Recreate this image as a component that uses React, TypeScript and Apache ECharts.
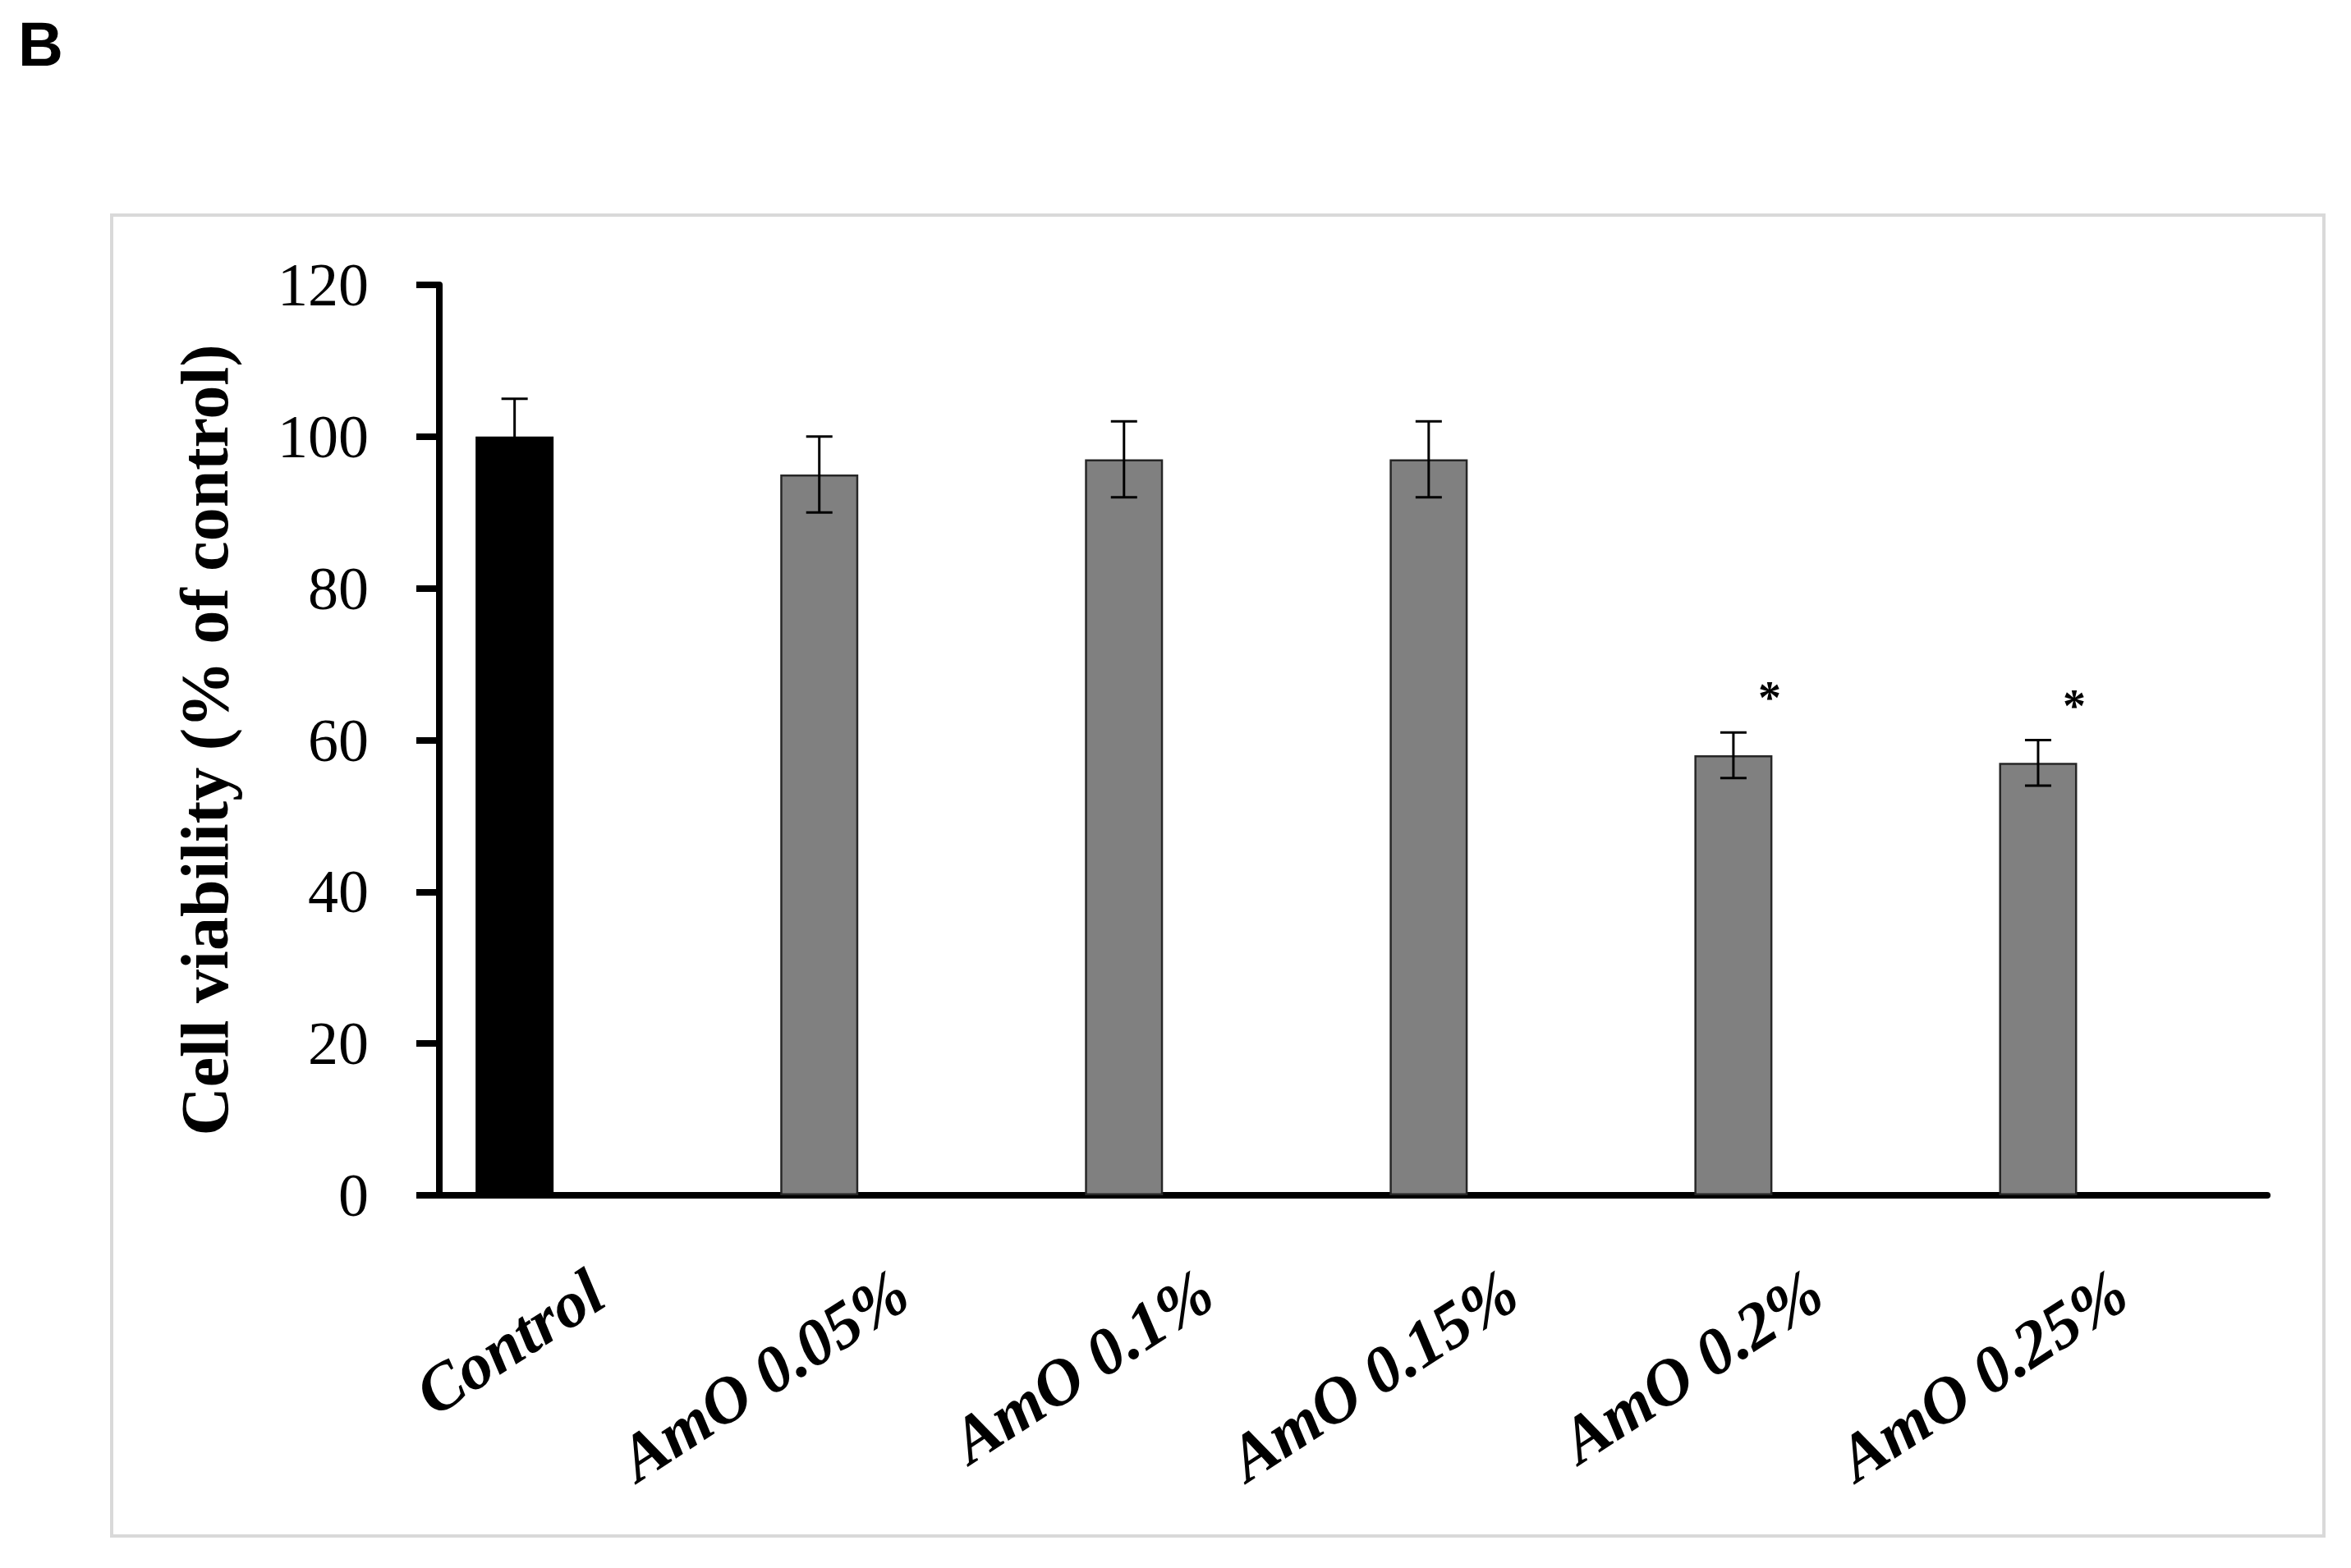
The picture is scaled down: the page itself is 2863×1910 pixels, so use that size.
import React, { useEffect, useRef } from "react";
import * as echarts from "echarts";

// ---- data ----
const categories = ["Control", "AmO 0.05%", "AmO 0.1%", "AmO 0.15%", "AmO 0.2%", "AmO 0.25%"];
const viability = [100, 95, 97, 97, 58, 57];
const errors = [5, 5, 5, 5, 3, 3];
const significance = ["", "", "", "", "*", "*"];
const barFills = ["#000000", "#808080", "#808080", "#808080", "#808080", "#808080"];
const yMin = 0;
const yMax = 120;
const yStep = 20;
const yTitle = "Cell viability (% of control)";
const panelLetter = "B";

// ---- layout constants ----
const X_MIN = -0.247;
const X_MAX = 5.752;
const LABEL_SHIFT = 0.27;

export default function App() {
  const ref = useRef<HTMLDivElement>(null);
  useEffect(() => {
    if (!ref.current) return;
    const chart = echarts.init(ref.current, null, { renderer: "svg" });
    const barData = viability.map((v, i) => ({
      value: [i, v],
      itemStyle: { color: barFills[i], borderColor: i === 0 ? "#000" : "#262626", borderWidth: 2.5 },
    }));
    const errData = viability.map((v, i) => [i, v, errors[i]]);
    const sigData = viability.map((v, i) => [i, v, errors[i], significance[i]]);
    const labelPositions = categories.map((_, i) => i + LABEL_SHIFT);

    chart.setOption({
      animation: false,
      backgroundColor: "#ffffff",
      grid: { left: 535, right: 102, top: 347, bottom: 454, containLabel: false },
      xAxis: {
        type: "value",
        min: X_MIN,
        max: X_MAX,
        splitLine: { show: false },
        axisTick: { show: false },
        axisLine: { show: true, onZero: false, lineStyle: { color: "#000", width: 8 } },
        axisLabel: {
          customValues: labelPositions,
          formatter: (val: number) => categories[Math.round(val - LABEL_SHIFT)] ?? "",
          rotate: 33,
          margin: 110,
          fontFamily: "Liberation Serif",
          fontStyle: "italic",
          fontWeight: "bold",
          fontSize: 80,
          color: "#000",
        },
      },
      yAxis: {
        type: "value",
        min: yMin,
        max: yMax,
        interval: yStep,
        name: yTitle,
        nameLocation: "middle",
        nameGap: 245,
        nameTextStyle: { fontFamily: "Liberation Serif", fontWeight: "bold", fontSize: 82, color: "#000" },
        splitLine: { show: false },
        axisLine: { show: true, onZero: false, lineStyle: { color: "#000", width: 8 } },
        axisTick: { show: true, length: 28, lineStyle: { color: "#000", width: 8 } },
        axisLabel: { margin: 86, fontFamily: "Liberation Serif", fontSize: 74, color: "#000" },
      },
      graphic: [
        {
          type: "rect",
          z: -10,
          shape: { x: 136, y: 262, width: 2694, height: 1609 },
          style: { fill: "none", stroke: "#d9d9d9", lineWidth: 4 },
        },
        {
          type: "text",
          left: 22,
          top: 15,
          style: { text: panelLetter, font: "bold 76px 'Liberation Sans'", fill: "#000" },
        },
      ],
      series: [
        {
          type: "bar",
          data: barData,
          barWidth: 95,
          z: 2,
        },
        {
          type: "custom",
          z: 5,
          data: errData,
          renderItem: (params: any, api: any) => {
            const x = api.value(0);
            const v = api.value(1);
            const e = api.value(2);
            const top = api.coord([x, v + e]);
            const bot = api.coord([x, v - e]);
            const hw = 16;
            const st = { stroke: "#000", lineWidth: 3 };
            return {
              type: "group",
              children: [
                { type: "line", shape: { x1: top[0], y1: top[1], x2: bot[0], y2: bot[1] }, style: st },
                { type: "line", shape: { x1: top[0] - hw, y1: top[1], x2: top[0] + hw, y2: top[1] }, style: st },
                { type: "line", shape: { x1: bot[0] - hw, y1: bot[1], x2: bot[0] + hw, y2: bot[1] }, style: st },
              ],
            };
          },
        },
        {
          type: "custom",
          z: 6,
          data: sigData,
          renderItem: (params: any, api: any) => {
            const i = params.dataIndex;
            const txt = significance[i];
            if (!txt) return null;
            const x = api.value(0);
            const v = api.value(1);
            const e = api.value(2);
            const p = api.coord([x, v + e]);
            return {
              type: "text",
              x: p[0] + 44,
              y: p[1] - 42,
              style: {
                text: txt,
                font: "bold 56px 'Liberation Serif'",
                fill: "#000",
                align: "center",
                verticalAlign: "middle",
              },
            };
          },
        },
      ],
    });
    return () => chart.dispose();
  }, []);
  return <div ref={ref} style={{ position: "fixed", left: 0, top: 0, width: 2863, height: 1910 }} />;
}
